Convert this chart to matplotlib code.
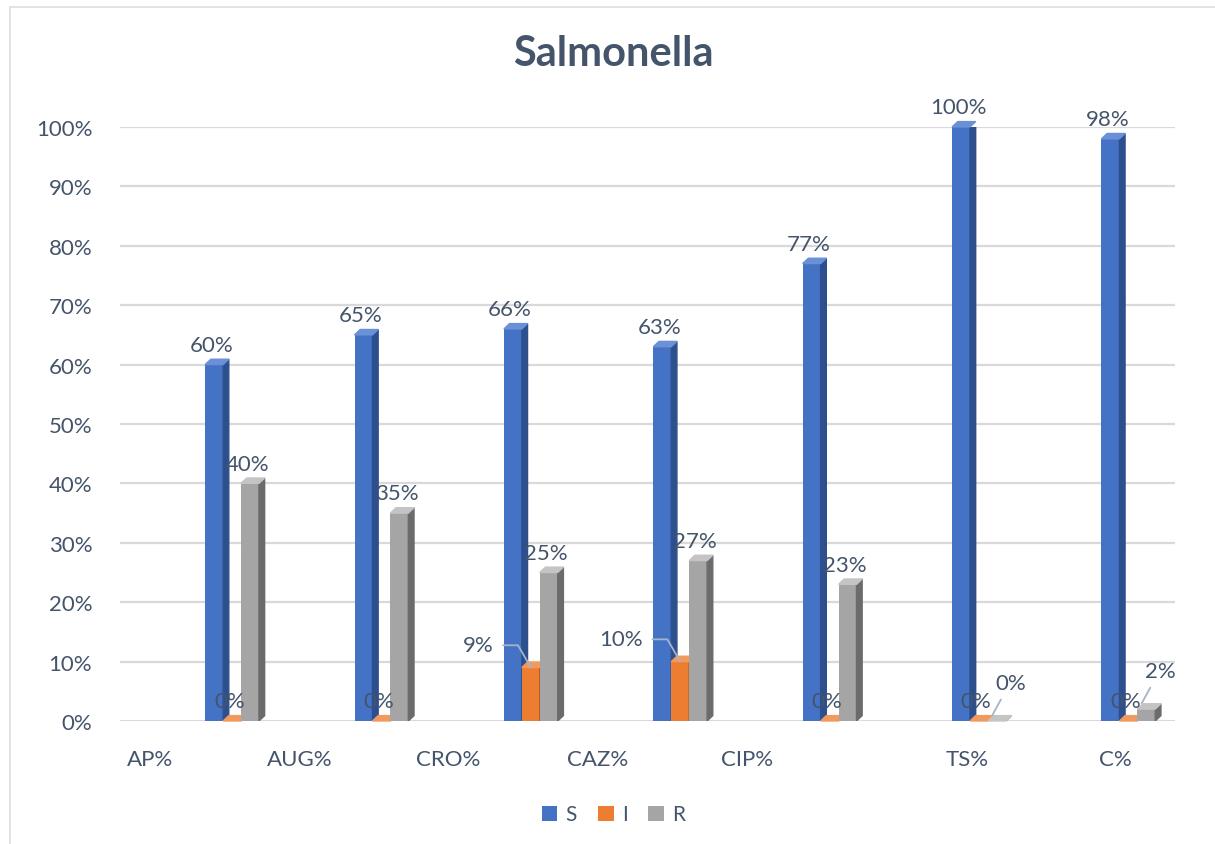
import numpy as np
import matplotlib.pyplot as plt
from matplotlib.patches import Polygon, Rectangle

plt.rcParams['font.family'] = ['Lato', 'DejaVu Sans']

# data
drugs = ["AP%", "AUG%", "CRO%", "CAZ%", "CIP%", "TS%", "C%"]
S = [60, 65, 66, 63, 77, 100, 98]
I = [0, 0, 9, 10, 0, 0, 0]
R = [40, 35, 25, 27, 23, 0, 2]

txt = '#44546A'
series = [("S", S, '#4472C4', '#2E4F8E', '#6A90D8'),
          ("I", I, '#ED7D31', '#B35A1C', '#F29A5E'),
          ("R", R, '#A5A5A5', '#6B6B6B', '#C4C4C4')]

fig = plt.figure(figsize=(12.15, 8.45), dpi=100)
ax = fig.add_axes([0.0988, 0.1456, 0.868, 0.703])

x = np.arange(len(drugs))
w = 0.12
dx, dy = 0.038, 0.9   # fake depth of the 3d bars

# gridlines
for g in range(0, 101, 10):
    ax.axhline(g, color='#D9D9D9', lw=1.6 if g else 2.2, zorder=0)

for k, (name, vals, c, cside, ctop) in enumerate(series):
    left = x - 0.18 + k * w
    ax.bar(left, vals, width=w, align='edge', color=c, label=name, zorder=2)
    for xl, h in zip(left, vals):
        side = Polygon([(xl + w, 0), (xl + w + dx, dy), (xl + w + dx, h + dy), (xl + w, h)],
                       closed=True, color=cside, zorder=2)
        top = Polygon([(xl, h), (xl + dx, h + dy), (xl + w + dx, h + dy), (xl + w, h)],
                      closed=True, color=ctop, zorder=2, clip_on=False)
        ax.add_patch(side)
        ax.add_patch(top)

lead = dict(arrowstyle='-', color='#A6B4C8', lw=1.3, shrinkB=0)

# value labels
for k, (name, vals, c, cside, ctop) in enumerate(series):
    left = x - 0.18 + k * w
    for j, (xl, h) in enumerate(zip(left, vals)):
        cx = xl + w / 2
        if name == "I" and h > 0:
            ax.annotate(f"{h}%", xy=(cx, h), xytext=(-27, 16), textcoords='offset points',
                        ha='right', va='center', fontsize=16, color=txt,
                        arrowprops=dict(lead, shrinkA=5, relpos=(1, 0.5),
                                        connectionstyle='angle,angleA=0,angleB=-60,rad=0'))
        elif name == "R" and j >= 5:
            ax.annotate(f"{h}%", xy=(cx - 0.03, h + 1), xytext=(2, 23), textcoords='offset points',
                        ha='left', va='center', fontsize=16, color=txt,
                        arrowprops=dict(lead, shrinkA=3, relpos=(0.3, 0)))
        else:
            ax.annotate(f"{h}%", xy=(cx, h), xytext=(-2, 7), textcoords='offset points',
                        ha='center', va='bottom', fontsize=16, color=txt)

ax.set_xlim(-0.75, 6.31)
ax.set_ylim(0, 100)
ax.set_yticks(range(0, 101, 10))
ax.set_yticklabels([f"{g}%" for g in range(0, 101, 10)], fontsize=16, color=txt)
shift = [-0.55] * 5 + [-0.08, -0.09]
ax.set_xticks(x + np.array(shift))
ax.set_xticklabels(drugs, fontsize=16, color=txt)
ax.tick_params(axis='both', length=0)
ax.tick_params(axis='x', pad=20)
ax.tick_params(axis='y', pad=20)
for s in ax.spines.values():
    s.set_visible(False)

fig.suptitle("Salmonella", x=0.505, y=0.958, fontsize=30, fontweight='bold', color=txt)

leg = fig.legend(loc='center', bbox_to_anchor=(0.505, 0.035), ncol=3, frameon=False,
                 fontsize=15, handlelength=0.75, handleheight=0.75, handletextpad=0.4,
                 columnspacing=1.0, labelcolor=txt)

fig.patches.append(Rectangle((10 / 1215, -0.05), 1.1, 1 - 8 / 845 + 0.05,
                             transform=fig.transFigure, fill=False,
                             edgecolor='#D9DEE6', lw=1.2))

fig.savefig("out.png", dpi=100)
